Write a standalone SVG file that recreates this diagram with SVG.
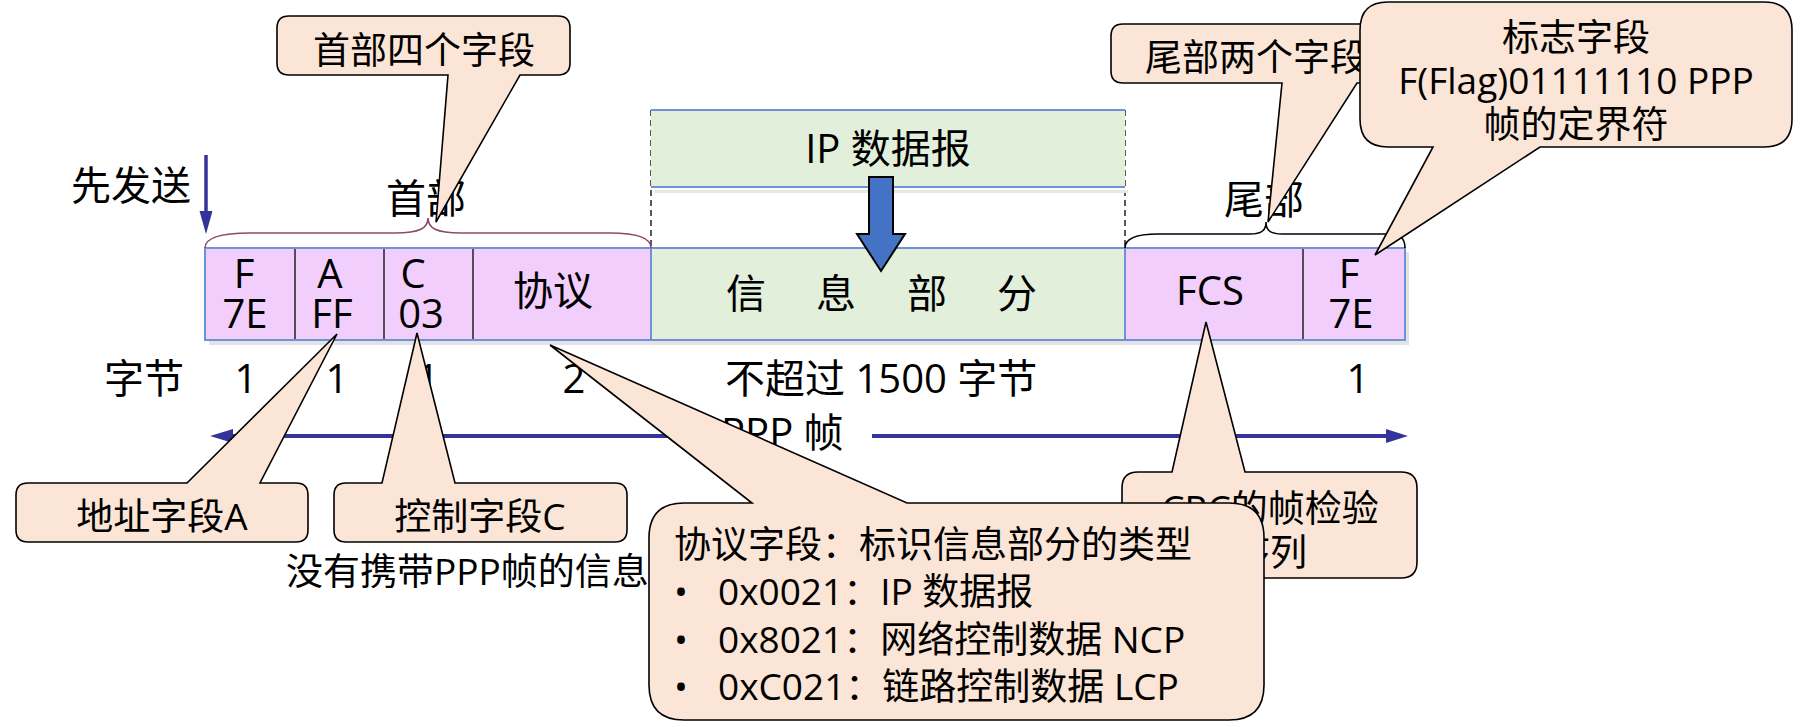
<svg xmlns="http://www.w3.org/2000/svg" width="1800" height="727" viewBox="0 0 1800 727">
<defs>
<style>
text{font-family:"Open Sans","Noto Sans CJK SC",sans-serif;fill:#000}
.t40{font-size:40px}
.t37{font-size:37px}
.mid{text-anchor:middle}
.callout{fill:#FBE5D6;stroke:#000;stroke-width:1.6;stroke-linejoin:miter}
.pink{fill:#F2CEFC}
.green{fill:#E2EFDA}
.edge{fill:none;stroke:#6F91D8;stroke-width:2}
.div{stroke:#222;stroke-width:1.5}
.dash{stroke:#000;stroke-width:1.3;stroke-dasharray:6 4;fill:none}
.navy{stroke:#333399;stroke-width:4;fill:none}
</style>
</defs>
<rect width="1800" height="727" fill="#fff"/>

<g id="ip-datagram">
<line class="dash" x1="651" y1="110" x2="651" y2="248"/>
<line class="dash" x1="1125" y1="110" x2="1125" y2="248"/>
<rect x="654" y="190" width="474" height="3" fill="#e8e8e8"/>
<rect x="651" y="110" width="474" height="77" class="green"/>
<line x1="651" y1="110" x2="1125" y2="110" class="edge"/>
<line x1="651" y1="187" x2="1125" y2="187" class="edge"/>
<text class="t40 mid" x="888" y="163">IP 数据报</text>
</g>

<g id="frame">
<rect x="209" y="252" width="1200" height="93" fill="#e3e3e3"/>
<rect x="205" y="248" width="446" height="92" class="pink"/>
<rect x="651" y="248" width="474" height="92" class="green"/>
<rect x="1125" y="248" width="280" height="92" class="pink"/>
<line class="div" x1="295" y1="248" x2="295" y2="340"/>
<line class="div" x1="384" y1="248" x2="384" y2="340"/>
<line class="div" x1="473" y1="248" x2="473" y2="340"/>
<line class="div" x1="1303" y1="248" x2="1303" y2="340"/>
<line class="edge" x1="651" y1="248" x2="651" y2="340"/>
<line class="edge" x1="1125" y1="248" x2="1125" y2="340"/>
<rect x="205" y="248" width="1200" height="92" class="edge"/>
<text class="t40 mid" x="244" y="288">F</text>
<text class="t40 mid" x="245" y="328">7E</text>
<text class="t40 mid" x="330" y="288">A</text>
<text class="t40 mid" x="332" y="328">FF</text>
<text class="t40 mid" x="413" y="288">C</text>
<text class="t40 mid" x="421" y="328">03</text>
<text class="t40 mid" x="553" y="305">协议</text>
<text class="t40 mid" x="746" y="308">信</text>
<text class="t40 mid" x="836" y="308">息</text>
<text class="t40 mid" x="927" y="308">部</text>
<text class="t40 mid" x="1017" y="308">分</text>
<text class="t40 mid" x="1210" y="305">FCS</text>
<text class="t40 mid" x="1349" y="288">F</text>
<text class="t40 mid" x="1351" y="328">7E</text>
</g>

<g id="encapsulate-arrow">
<polygon points="869,177 893,177 893,234 905,234 881,271 857,234 869,234" fill="#4472C4" stroke="#000" stroke-width="2"/>
</g>

<g id="braces">
<path d="M205,248 C205,237 222,233 250,233 L395,233 C420,233 428,228 428,218 C428,228 436,233 461,233 L610,233 C636,233 651,237 651,248" fill="none" stroke="#8E4A6E" stroke-width="1.6"/>
<path d="M1125,248 C1125,238 1138,234 1158,234 L1250,234 C1262,234 1266,230 1266,222 C1266,230 1270,234 1282,234 L1388,234 C1400,234 1405,238 1405,248" fill="none" stroke="#000" stroke-width="1.6"/>
<text class="t40 mid" x="426" y="213">首部</text>
<text class="t40 mid" x="1264" y="214">尾部</text>
</g>

<g id="send-first">
<line x1="206" y1="155" x2="206" y2="213" stroke="#333399" stroke-width="3.5"/>
<polygon points="199.5,211 212.5,211 206,234" fill="#333399"/>
<text class="t40 mid" x="131" y="200">先发送</text>
</g>

<g id="byte-counts">
<text class="t40 mid" x="144" y="393">字节</text>
<text class="t40 mid" x="246" y="393">1</text>
<text class="t40 mid" x="337" y="393">1</text>
<text class="t40 mid" x="428" y="393">1</text>
<text class="t40 mid" x="574" y="393">2</text>
<text class="t40" x="725" y="393">不超过 1500 字节</text>
<text class="t40 mid" x="1208" y="393">2</text>
<text class="t40 mid" x="1358" y="393">1</text>
</g>

<g id="connectors">
<line class="navy" x1="228" y1="436" x2="700" y2="436"/>
<line class="navy" x1="872" y1="436" x2="1390" y2="436"/>
<polygon points="210,436 233,429 233,443" fill="#333399"/>
<polygon points="1408,436 1386,429 1386,443" fill="#333399"/>
<text class="t40" x="721" y="447">PPP 帧</text>
</g>

<text class="t37" x="286" y="585">没有携带PPP帧的信息</text>

<g id="callout-header">
<path class="callout" d="M289,16 H558 Q570,16 570,28 V63 Q570,75 558,75 H520 L436,222 L448,75 H289 Q277,75 277,63 V28 Q277,16 289,16 Z"/>
<text class="t37 mid" x="424" y="64">首部四个字段</text>
</g>

<g id="callout-trailer">
<path class="callout" d="M1123,24 H1391 Q1403,24 1403,36 V71 Q1403,83 1391,83 H1357 L1268,222 L1282,83 H1123 Q1111,83 1111,71 V36 Q1111,24 1123,24 Z"/>
<text class="t37" x="1145" y="71">尾部两个字段</text>
</g>

<g id="callout-flag">
<path class="callout" d="M1388,2 H1764 Q1792,2 1792,30 V119 Q1792,147 1764,147 H1540 L1375,255 L1433,147 H1388 Q1360,147 1360,119 V30 Q1360,2 1388,2 Z"/>
<text class="t37 mid" x="1576" y="51">标志字段</text>
<text class="t37 mid" x="1576" y="94">F(Flag)01111110 PPP</text>
<text class="t37 mid" x="1576" y="138">帧的定界符</text>
</g>

<g id="callout-address">
<path class="callout" d="M28,483 H187 L337,334 L260,483 H296 Q308,483 308,495 V530 Q308,542 296,542 H28 Q16,542 16,530 V495 Q16,483 28,483 Z"/>
<text class="t37 mid" x="162" y="530">地址字段A</text>
</g>

<g id="callout-control">
<path class="callout" d="M346,483 H382 L417,333 L455,483 H615 Q627,483 627,495 V530 Q627,542 615,542 H346 Q334,542 334,530 V495 Q334,483 346,483 Z"/>
<text class="t37 mid" x="480" y="530">控制字段C</text>
</g>

<g id="callout-fcs">
<path class="callout" d="M1138,472 H1172 L1206,322 L1245,472 H1401 Q1417,472 1417,488 V562 Q1417,578 1401,578 H1138 Q1122,578 1122,562 V488 Q1122,472 1138,472 Z"/>
<text class="t37 mid" x="1270" y="522">CRC的帧检验</text>
<text class="t37 mid" x="1270" y="566">序列</text>
</g>

<g id="callout-protocol">
<path class="callout" d="M684,503 H752 L550,345 L907,503 H1229 Q1264,503 1264,538 V685 Q1264,720 1229,720 H684 Q649,720 649,685 V538 Q649,503 684,503 Z"/>
<text class="t37" x="674" y="558">协议字段：标识信息部分的类型</text>
<text class="t37 mid" x="681" y="605">•</text>
<text class="t37" x="718" y="605">0x0021：IP 数据报</text>
<text class="t37 mid" x="681" y="653">•</text>
<text class="t37" x="718" y="653">0x8021：网络控制数据 NCP</text>
<text class="t37 mid" x="681" y="700">•</text>
<text class="t37" x="718" y="700">0xC021：链路控制数据 LCP</text>
</g>
</svg>
